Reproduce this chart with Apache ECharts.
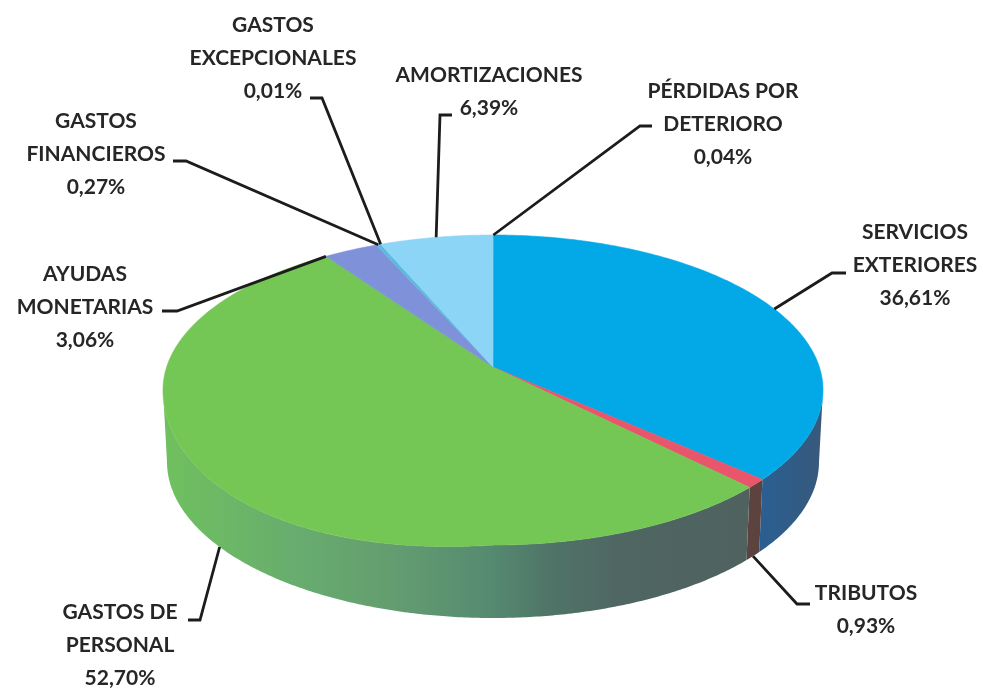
<!DOCTYPE html>
<html>
<head>
<meta charset="utf-8">
<title>Gastos</title>
<style>
html, body { margin: 0; padding: 0; background: #fff; }
#chart { width: 983px; height: 690px; }
</style>
<script src="https://cdn.jsdelivr.net/npm/echarts@6/dist/echarts.min.js"></script>
</head>
<body>
<div id="chart"></div>
<script>
// clockwise from 12 o'clock
var categories = ['PÉRDIDAS POR\nDETERIORO', 'SERVICIOS\nEXTERIORES', 'TRIBUTOS', 'GASTOS DE\nPERSONAL', 'AYUDAS\nMONETARIAS', 'GASTOS\nFINANCIEROS', 'GASTOS\nEXCEPCIONALES', 'AMORTIZACIONES'];
var values = [0.04, 36.61, 0.93, 52.70, 3.06, 0.27, 0.01, 6.39];
var valueLabels = ['0,04%', '36,61%', '0,93%', '52,70%', '3,06%', '0,27%', '0,01%', '6,39%'];

var topColors = ['#1aa9e0', '#03a9e6', '#e9566c', '#74c655', '#7f91d8', '#5fb8df', '#6cc4ea', '#8dd5f6'];
var wallColors = ['#2c5f8f', null, '#5c4340', null, '#5a6fa0', '#5a6fa0', '#5a6fa0', '#5a8fb0'];

// label placement: text centre, first line y, elbow start, elbow end, spot on the slice (0..1)
var labelX = [723, 915, 866, 120, 85, 96, 273, 489];
var labelY = [91, 232, 593, 612, 274, 121, 25, 75];
var elbowA = [[652, 126], [846, 273], [810, 604], [188, 620], [162, 311], [173, 161], [310, 98], [452, 115]];
var elbowB = [[640, 126], [832, 273], [797, 604], [200, 620], [177, 311], [186, 161], [322, 98], [440, 115]];
var leaderSpot = [0.5, 0.5, 0.5, 0.5, 0, 0.5, 0.5, 0.5];

var topDisc = { cx: 493, cy: 390, rx: 330, ry: 155, sag: 11 };
var baseDisc = { cx: 493, cy: 462, rx: 326, ry: 156, sag: 0 };
var tilt = -0.148; // where the pie's centre lands inside the disc (perspective)

var total = values.reduce(function (a, b) { return a + b; }, 0);
var starts = [], acc = 0;
values.forEach(function (v) {
    starts.push(acc / total * Math.PI * 2);
    acc += v;
});
function endOf(i) {
    return starts[i] + values[i] / total * Math.PI * 2;
}

// true pie angle -> point on the unit disc, seen in perspective
function project(a, r) {
    var x = Math.sin(a) * r, y = -Math.cos(a) * r;
    var d = 1 + tilt * y;
    return [x * Math.sqrt(1 - tilt * tilt) / d, (y + tilt) / d];
}
function toPixel(p, disc) {
    // the scanned disc sags a little at the lower left
    var sag = p[0] < 0 && p[1] > 0 ? disc.sag * 2 * -p[0] * p[1] : 0;
    return [disc.cx + p[0] * disc.rx, disc.cy + p[1] * disc.ry + sag];
}
function rimAngle(a) {
    var p = project(a, 1);
    var t = Math.atan2(p[0], -p[1]);
    return t < 0 ? t + Math.PI * 2 : t;
}

function renderTop(params) {
    var i = params.dataIndex, pts = [toPixel(project(0, 0), topDisc)];
    var a0 = starts[i], a1 = endOf(i), n = Math.max(2, Math.ceil((a1 - a0) / 0.01));
    for (var k = 0; k <= n; k++) {
        pts.push(toPixel(project(a0 + (a1 - a0) * k / n, 1), topDisc));
    }
    return {
        type: 'polygon',
        shape: { points: pts },
        style: { fill: topColors[i], stroke: topColors[i], lineWidth: 0.6 }
    };
}

function renderWall(params) {
    var i = params.dataIndex;
    var t0 = Math.max(rimAngle(starts[i]), Math.PI / 2);
    var t1 = Math.min(i === values.length - 1 ? Math.PI * 2 : rimAngle(endOf(i)), Math.PI * 3 / 2);
    if (t1 <= t0) return null;
    var n = Math.max(2, Math.ceil((t1 - t0) / 0.01)), upper = [], lower = [];
    for (var k = 0; k <= n; k++) {
        var t = t0 + (t1 - t0) * k / n;
        upper.push(toPixel([Math.sin(t), -Math.cos(t)], topDisc));
        lower.unshift(toPixel([Math.sin(t), -Math.cos(t)], baseDisc));
    }
    var fill = wallColors[i] || {
        type: 'linear', global: true, x: 163, y: 0, x2: 750, y2: 0,
        colorStops: [
            { offset: 0, color: '#70c05e' },
            { offset: 0.1, color: '#6cb866' },
            { offset: 0.22, color: '#68ad6e' },
            { offset: 0.4, color: '#639c70' },
            { offset: 0.56, color: '#558a70' },
            { offset: 0.66, color: '#4f7468' },
            { offset: 0.78, color: '#4f6663' },
            { offset: 1, color: '#4f625f' }
        ]
    };
    if (i === 1) {
        fill = {
            type: 'linear', global: true, x: 760, y: 0, x2: 825, y2: 0,
            colorStops: [{ offset: 0, color: '#2a5f92' }, { offset: 1, color: '#38597a' }]
        };
    }
    return {
        type: 'polygon',
        shape: { points: upper.concat(lower) },
        style: { fill: fill, stroke: 'none' }
    };
}

function renderLabel(params) {
    var i = params.dataIndex;
    var a = starts[i] + (endOf(i) - starts[i]) * leaderSpot[i];
    var p = project(a, 1);
    // front slices hook onto the bottom edge of the wall
    var tip = toPixel(p, p[1] > 0.3 ? baseDisc : topDisc);
    return {
        type: 'group',
        children: [{
            type: 'polyline',
            shape: { points: [elbowA[i], elbowB[i], tip] },
            style: { fill: 'none', stroke: '#1c1c1c', lineWidth: 2.8 }
        }, {
            type: 'text',
            style: {
                text: categories[i] + '\n' + valueLabels[i],
                x: labelX[i],
                y: labelY[i] - 16,
                align: 'center',
                verticalAlign: 'top',
                font: 'bold 21px Lato',
                lineHeight: 33,
                fill: '#262626'
            }
        }]
    };
}

var chart = echarts.init(document.getElementById('chart'));
chart.setOption({
    animation: false,
    backgroundColor: '#ffffff',
    series: [
        { type: 'custom', coordinateSystem: 'none', z: 1, data: values, renderItem: renderWall, silent: true },
        { type: 'custom', coordinateSystem: 'none', z: 2, data: values, renderItem: renderTop, silent: true },
        { type: 'custom', coordinateSystem: 'none', z: 3, data: values, renderItem: renderLabel, silent: true }
    ]
});
</script>
</body>
</html>
